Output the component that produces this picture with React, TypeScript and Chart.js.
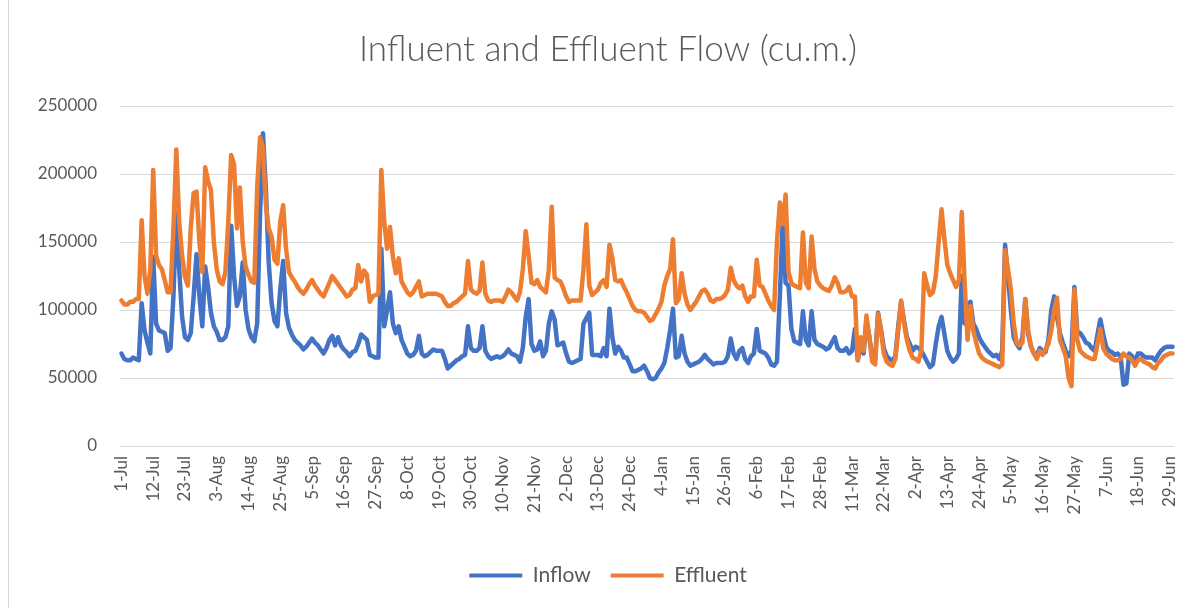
import React, { useEffect, useRef } from "react";
import { Chart, registerables } from "chart.js";

Chart.register(...registerables);

const MONTHS = ["Jan", "Feb", "Mar", "Apr", "May", "Jun", "Jul", "Aug", "Sep", "Oct", "Nov", "Dec"];
const DAY_COUNT = 365;
const TICK_EVERY = 11;
const Y_MAX = 250000;
const Y_STEP = 50000;

// 1-Jul ... 30-Jun (one label per day)
const categories: string[] = (() => {
  const out: string[] = [];
  for (let i = 0; i < DAY_COUNT; i++) {
    const d = new Date(Date.UTC(2018, 6, 1 + i));
    out.push(`${d.getUTCDate()}-${MONTHS[d.getUTCMonth()]}`);
  }
  return out;
})();

const inflow: number[] = [
  68000, 64000, 63000, 63000, 65000, 64000, 63000, 105000, 85000, 76000,
  68000, 139000, 90000, 85000, 84000, 83000, 70000, 72000, 110000, 171000,
  130000, 95000, 80000, 78000, 83000, 110000, 141000, 110000, 88000, 132000,
  117000, 98000, 88000, 84000, 78000, 78000, 80000, 88000, 162000, 125000,
  103000, 110000, 135000, 100000, 86000, 80000, 77000, 90000, 170000, 230000,
  190000, 135000, 105000, 92000, 88000, 115000, 136000, 98000, 87000, 82000,
  78000, 76000, 74000, 71000, 73000, 76000, 79000, 76000, 74000, 71000,
  68000, 72000, 78000, 81000, 74000, 80000, 74000, 71000, 69000, 66000,
  69000, 70000, 75000, 82000, 80000, 78000, 67000, 66000, 65000, 65000,
  145000, 88000, 100000, 113000, 90000, 83000, 88000, 78000, 73000, 68000,
  66000, 67000, 70000, 81000, 68000, 66000, 67000, 69000, 71000, 70000,
  70000, 70000, 64000, 57000, 59000, 61000, 63000, 64000, 66000, 67000,
  88000, 72000, 70000, 70000, 72000, 88000, 70000, 66000, 64000, 65000,
  66000, 65000, 66000, 68000, 71000, 68000, 67000, 66000, 62000, 72000,
  95000, 108000, 75000, 70000, 71000, 77000, 66000, 70000, 90000, 99000,
  93000, 74000, 75000, 76000, 68000, 62000, 61000, 62000, 63000, 64000,
  90000, 94000, 98000, 67000, 67000, 67000, 66000, 72000, 66000, 101000,
  80000, 68000, 73000, 70000, 65000, 65000, 60000, 55000, 55000, 56000,
  57000, 59000, 55000, 50000, 49000, 50000, 54000, 57000, 61000, 72000,
  85000, 101000, 65000, 66000, 81000, 68000, 62000, 59000, 60000, 61000,
  62000, 64000, 67000, 64000, 62000, 60000, 61000, 61000, 61000, 62000,
  66000, 79000, 68000, 64000, 70000, 72000, 64000, 61000, 66000, 68000,
  86000, 70000, 69000, 68000, 65000, 60000, 59000, 62000, 110000, 165000,
  120000, 118000, 86000, 77000, 76000, 75000, 99000, 78000, 74000, 99000,
  78000, 75000, 74000, 73000, 71000, 72000, 76000, 80000, 72000, 70000,
  70000, 72000, 68000, 70000, 86000, 63000, 75000, 68000, 92000, 80000,
  65000, 64000, 98000, 86000, 72000, 66000, 64000, 63000, 66000, 88000,
  106000, 92000, 80000, 75000, 70000, 73000, 72000, 70000, 66000, 62000,
  58000, 60000, 75000, 88000, 95000, 82000, 70000, 65000, 62000, 64000,
  68000, 125000, 90000, 104000, 106000, 90000, 86000, 80000, 76000, 73000,
  70000, 68000, 66000, 67000, 64000, 70000, 148000, 125000, 100000, 80000,
  75000, 72000, 80000, 108000, 82000, 73000, 68000, 67000, 72000, 70000,
  69000, 78000, 100000, 110000, 95000, 83000, 76000, 70000, 66000, 70000,
  117000, 84000, 83000, 80000, 76000, 75000, 72000, 70000, 82000, 93000,
  82000, 73000, 70000, 69000, 67000, 68000, 66000, 45000, 46000, 68000,
  66000, 62000, 68000, 68000, 66000, 65000, 65000, 65000, 63000, 67000,
  70000, 72000, 73000, 73000, 73000,
];

const effluent: number[] = [
  107000, 104000, 104000, 106000, 106000, 108000, 108000, 166000, 125000, 112000,
  130000, 203000, 140000, 133000, 130000, 122000, 113000, 113000, 160000, 218000,
  165000, 140000, 124000, 118000, 160000, 186000, 187000, 150000, 128000, 205000,
  195000, 188000, 150000, 130000, 121000, 119000, 128000, 165000, 214000, 207000,
  160000, 190000, 150000, 132000, 126000, 121000, 120000, 190000, 227000, 220000,
  178000, 160000, 154000, 137000, 134000, 165000, 177000, 145000, 128000, 124000,
  121000, 117000, 114000, 112000, 115000, 119000, 122000, 118000, 115000, 112000,
  110000, 115000, 120000, 125000, 122000, 119000, 116000, 113000, 110000, 111000,
  115000, 116000, 133000, 121000, 129000, 126000, 106000, 110000, 111000, 112000,
  203000, 165000, 145000, 161000, 139000, 127000, 138000, 121000, 117000, 113000,
  111000, 113000, 117000, 121000, 110000, 111000, 112000, 112000, 112000, 112000,
  111000, 110000, 106000, 103000, 103000, 105000, 106000, 108000, 110000, 112000,
  136000, 115000, 113000, 112000, 114000, 135000, 112000, 107000, 106000, 107000,
  107000, 107000, 106000, 110000, 115000, 113000, 110000, 107000, 113000, 130000,
  158000, 140000, 120000, 119000, 122000, 117000, 115000, 113000, 130000, 176000,
  124000, 122000, 121000, 116000, 110000, 106000, 107000, 107000, 107000, 107000,
  130000, 163000, 118000, 111000, 113000, 115000, 120000, 122000, 117000, 148000,
  138000, 122000, 121000, 122000, 117000, 113000, 108000, 103000, 100000, 99000,
  99000, 98000, 95000, 92000, 93000, 97000, 101000, 106000, 118000, 125000,
  130000, 152000, 105000, 108000, 127000, 112000, 104000, 100000, 103000, 106000,
  110000, 114000, 115000, 112000, 107000, 106000, 108000, 108000, 109000, 111000,
  115000, 131000, 122000, 118000, 116000, 118000, 110000, 106000, 110000, 110000,
  137000, 118000, 117000, 112000, 107000, 103000, 100000, 150000, 179000, 163000,
  185000, 128000, 120000, 118000, 117000, 116000, 157000, 120000, 116000, 154000,
  130000, 121000, 118000, 116000, 115000, 114000, 118000, 124000, 120000, 113000,
  113000, 114000, 117000, 110000, 110000, 63000, 80000, 70000, 96000, 80000,
  62000, 60000, 97000, 85000, 68000, 62000, 60000, 59000, 64000, 85000,
  107000, 90000, 78000, 70000, 65000, 64000, 62000, 70000, 127000, 118000,
  111000, 113000, 125000, 150000, 174000, 152000, 133000, 127000, 122000, 117000,
  122000, 172000, 120000, 78000, 103000, 85000, 76000, 68000, 65000, 63000,
  62000, 61000, 60000, 59000, 58000, 60000, 144000, 130000, 115000, 90000,
  76000, 74000, 76000, 108000, 85000, 73000, 68000, 64000, 70000, 67000,
  71000, 75000, 85000, 100000, 109000, 78000, 72000, 66000, 50000, 44000,
  115000, 78000, 70000, 68000, 66000, 65000, 64000, 64000, 75000, 86000,
  72000, 68000, 66000, 64000, 63000, 63000, 64000, 68000, 66000, 65000,
  63000, 59000, 63000, 64000, 62000, 61000, 60000, 58000, 57000, 61000,
  63000, 66000, 67000, 68000, 68000,
];

const seriesNames = ["Inflow", "Effluent"];
const seriesColors = ["#4472C4", "#ED7D31"];

const FONT = "Lato, 'Open Sans', sans-serif";
const TEXT = "#595959";
const GRID = "#d9d9d9";
const PAD_LEFT = 34;
const PAD_RIGHT = 21;
const PAD_BOTTOM = 12;

export default function App() {
  const ref = useRef<HTMLCanvasElement | null>(null);

  useEffect(() => {
    if (!ref.current) return;
    const chart = new Chart(ref.current, {
      type: "line",
      data: {
        labels: categories,
        datasets: [inflow, effluent].map((data, k) => ({
          label: seriesNames[k],
          data,
          borderColor: seriesColors[k],
          backgroundColor: seriesColors[k],
          borderWidth: 4.5,
          pointRadius: 0,
          pointHoverRadius: 0,
          tension: 0,
          borderJoinStyle: "round" as const,
          borderCapStyle: "round" as const,
          fill: false,
          order: k === 0 ? 2 : 1,
        })),
      },
      options: {
        animation: false,
        responsive: false,
        events: [],
        layout: { padding: { left: PAD_LEFT, right: PAD_RIGHT, top: 0, bottom: PAD_BOTTOM }, autoPadding: false },
        plugins: {
          title: {
            display: true,
            text: "Influent and Effluent Flow (cu.m.)",
            color: TEXT,
            font: { family: FONT, size: 35, weight: "300" as any, lineHeight: 1.2 },
            padding: { top: 29, bottom: 35 },
          },
          legend: {
            position: "bottom",
            labels: {
              color: TEXT,
              font: { family: FONT, size: 21 },
              boxWidth: 53,
              boxHeight: 4,
              padding: 20,
              sort: (a: any, b: any) => a.datasetIndex - b.datasetIndex,
              generateLabels: (c: any) =>
                (Chart.defaults.plugins.legend.labels.generateLabels as any)(c).map((l: any) => ({
                  ...l,
                  lineWidth: 0,
                })),
            },
          },
          tooltip: { enabled: false },
        },
        scales: {
          x: {
            type: "category",
            offset: true,
            grid: { display: false, drawTicks: false },
            border: { display: false },
            ticks: {
              autoSkip: false,
              maxRotation: 90,
              minRotation: 90,
              padding: 10,
              color: TEXT,
              font: { family: FONT, size: 17 },
              callback: (_v: any, i: number) => (i % TICK_EVERY === 0 ? categories[i] : ""),
            },
            afterFit: (s: any) => {
              const lg = s.chart.legend;
              s.height = 608 - PAD_BOTTOM - (lg ? lg.height : 0) - 446;
            },
          },
          y: {
            min: 0,
            max: Y_MAX,
            ticks: {
              stepSize: Y_STEP,
              padding: 23,
              color: TEXT,
              font: { family: FONT, size: 17 },
              callback: (v: any) => String(v),
            },
            grid: { color: GRID, lineWidth: 1, drawTicks: false },
            border: { display: false },
            afterFit: (s: any) => {
              s.width = 120 - PAD_LEFT;
            },
          },
        },
      },
    });
    return () => chart.destroy();
  }, []);

  return (
    <div style={{ position: "absolute", left: 0, top: 0, width: 1203, height: 608, background: "#fff" }}>
      <div style={{ position: "absolute", left: 8, top: 0, width: 1, height: 608, background: GRID }} />
      <canvas ref={ref} width={1203} height={608} style={{ position: "absolute", left: 0, top: 0, width: 1203, height: 608 }} />
    </div>
  );
}
